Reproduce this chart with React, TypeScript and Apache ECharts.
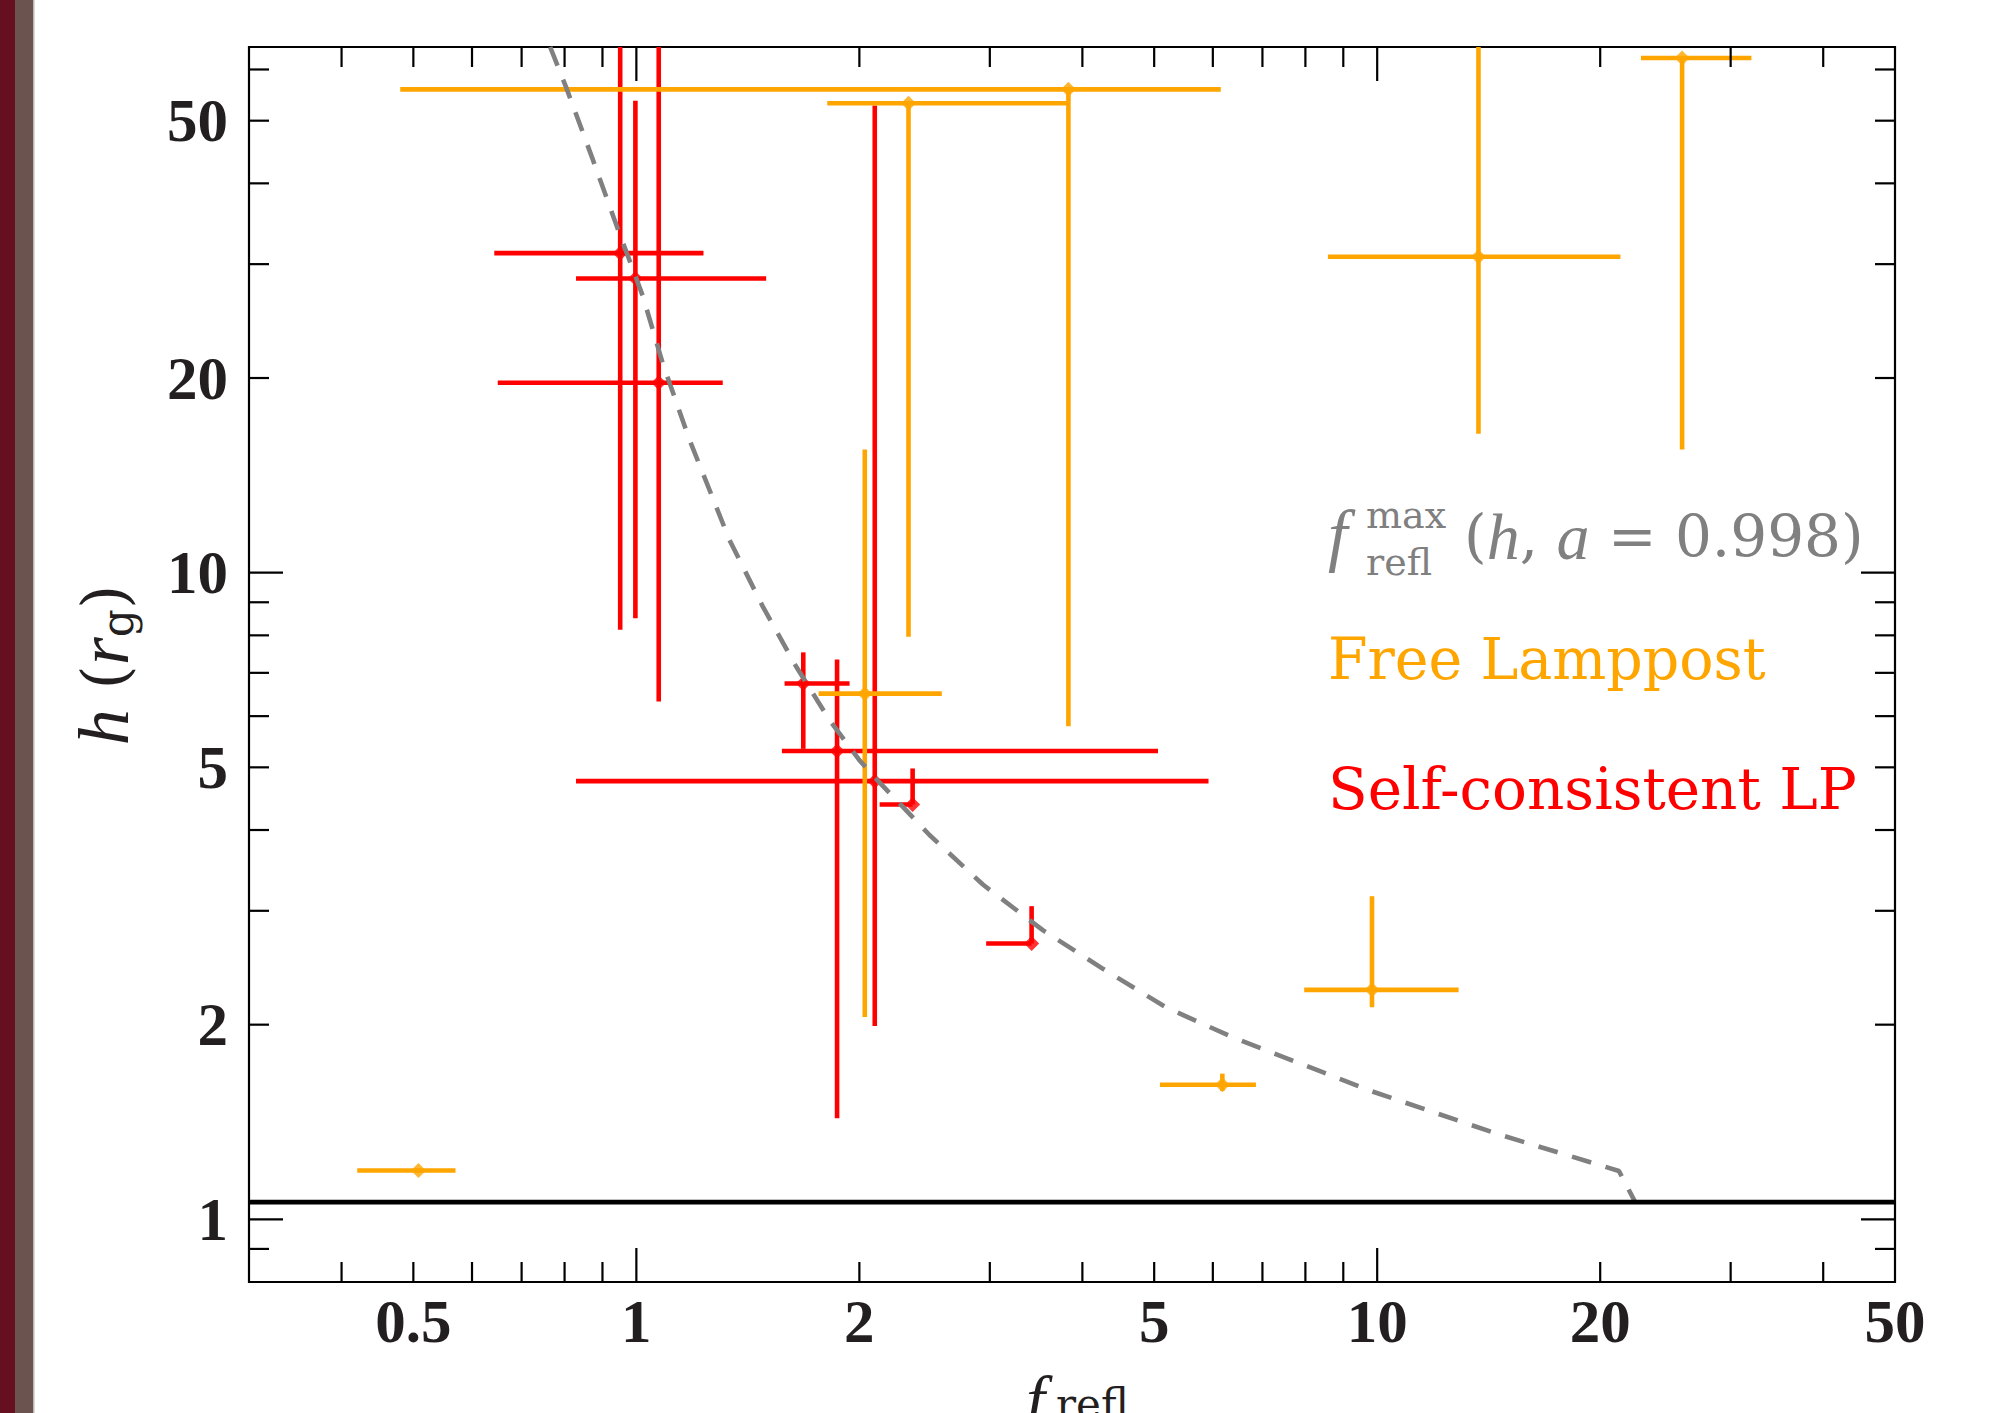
import React, { useEffect, useRef } from "react";
import * as echarts from "echarts";

// ---- axis setup ----
const X_MIN = 0.3;
const X_MAX = 50;
const Y_MIN = 0.8;
const Y_MAX = 65;
const xTickMajor = [1, 10];
const xTickMinor = [0.4, 0.5, 0.6, 0.7, 0.8, 0.9, 2, 3, 4, 5, 6, 7, 8, 9, 20, 30, 40];
const xTickLabels = [0.5, 1, 2, 5, 10, 20, 50];
const yTickMajor = [1, 10];
const yTickMinor = [0.9, 2, 3, 4, 5, 6, 7, 8, 9, 20, 30, 40, 50, 60];
const yTickLabels = [1, 2, 5, 10, 20, 50];

// event horizon height for a = 0.998
const horizonH = 1.063;

// f_refl^max(h, a=0.998) curve
const curveX = [0.765, 0.804, 0.873, 0.944, 1.02, 1.085, 1.179, 1.335, 1.481, 1.643, 1.822, 2.0, 2.107, 2.487, 2.936, 3.537, 4.264, 5.19, 6.39, 9.8, 14.57, 21.2, 22.3];
const curveY = [65, 56.3, 43.6, 34.0, 26.8, 21.1, 16.07, 11.25, 8.87, 7.16, 5.92, 5.13, 4.8, 3.93, 3.294, 2.8, 2.44, 2.126, 1.911, 1.58, 1.354, 1.188, 1.063];

// Self-consistent LP (red)
const redX = [0.951, 0.997, 1.072, 1.68, 1.866, 2.098, 2.36, 3.416];
const redY = [31.2, 28.5, 19.67, 6.74, 5.3, 4.76, 4.38, 2.67];
const redXLo = [0.643, 0.829, 0.65, 1.585, 1.572, 0.829, 2.13, 2.966];
const redXHi = [1.232, 1.497, 1.308, 1.94, 5.06, 5.92, 2.36, 3.416];
const redYLo = [8.16, 8.5, 6.32, 5.34, 1.433, 1.99, 4.38, 2.67];
const redYHi = [100, 53.7, 100, 7.53, 7.34, 52.8, 4.98, 3.05];

// Free Lamppost (orange)
const orangeX = [0.508, 3.83, 2.33, 25.8, 13.7, 9.84, 6.18, 2.034];
const orangeY = [1.19, 55.9, 53.2, 62.5, 30.8, 2.264, 1.615, 6.5];
const orangeXLo = [0.42, 0.48, 1.81, 22.7, 8.58, 7.97, 5.09, 1.762];
const orangeXHi = [0.57, 6.15, 3.82, 32.0, 21.3, 12.88, 6.86, 2.584];
const orangeYLo = [1.18, 5.79, 7.96, 15.5, 16.4, 2.128, 1.58, 2.056];
const orangeYHi = [1.2, 55.9, 53.2, 62.5, 100, 3.16, 1.68, 15.5];

const RED = "#FF0000";
const ORANGE = "#FFA500";
const GRAY = "#808080";
const INK = "#231F20";

function errRows(x: number[], y: number[], xl: number[], xh: number[], yl: number[], yh: number[]) {
  return x.map((v, i) => [v, y[i], xl[i], xh[i], yl[i], yh[i]]);
}

function makeErrRender(color: string) {
  return (params: any, api: any) => {
    const cs = params.coordSys;
    const cx = (v: number) => Math.max(cs.x, Math.min(cs.x + cs.width, v));
    const cy = (v: number) => Math.max(cs.y, Math.min(cs.y + cs.height, v));
    const x = api.value(0);
    const y = api.value(1);
    const a = api.coord([api.value(2), y]);
    const b = api.coord([api.value(3), y]);
    const c = api.coord([x, api.value(4)]);
    const d = api.coord([x, api.value(5)]);
    const style = { stroke: color, lineWidth: 4.6, fill: null };
    return {
      type: "group",
      children: [
        { type: "line", shape: { x1: cx(a[0]), y1: cy(a[1]), x2: cx(b[0]), y2: cy(b[1]) }, style },
        { type: "line", shape: { x1: cx(c[0]), y1: cy(c[1]), x2: cx(d[0]), y2: cy(d[1]) }, style },
      ],
    };
  };
}

function tickRender(params: any, api: any) {
  const cs = params.coordSys;
  const kind = api.value(2);
  const p = api.coord([api.value(0), api.value(1)]);
  const style = { stroke: "#000", lineWidth: 2.2, fill: null };
  if (kind < 2) {
    const len = kind === 1 ? 34 : 20;
    const bottom = cs.y + cs.height;
    const top = cs.y;
    return {
      type: "group",
      children: [
        { type: "line", shape: { x1: p[0], y1: bottom, x2: p[0], y2: bottom - len }, style },
        { type: "line", shape: { x1: p[0], y1: top, x2: p[0], y2: top + len }, style },
      ],
    };
  }
  const len = kind === 3 ? 34 : 20;
  const left = cs.x;
  const right = cs.x + cs.width;
  return {
    type: "group",
    children: [
      { type: "line", shape: { x1: left, y1: p[1], x2: left + len, y2: p[1] }, style },
      { type: "line", shape: { x1: right, y1: p[1], x2: right - len, y2: p[1] }, style },
    ],
  };
}

function labelRender(params: any, api: any) {
  const cs = params.coordSys;
  const kind = api.value(2);
  const p = api.coord([api.value(0), api.value(1)]);
  const common = { fontFamily: "Liberation Serif", fontWeight: "bold", fontSize: 61, fill: INK };
  if (kind === 0) {
    return {
      type: "text",
      x: p[0],
      y: cs.y + cs.height + 39,
      style: { ...common, text: String(api.value(0)), align: "center", verticalAlign: "middle" },
    };
  }
  return {
    type: "text",
    x: cs.x - 21,
    y: p[1],
    style: { ...common, text: String(api.value(1)), align: "right", verticalAlign: "middle" },
  };
}

export default function App() {
  const ref = useRef<HTMLDivElement>(null);
  useEffect(() => {
    if (!ref.current) return;
    const chart = echarts.init(ref.current, undefined, { renderer: "svg" });

    const tickData = [
      ...xTickMinor.map((v) => [v, Y_MIN, 0]),
      ...xTickMajor.map((v) => [v, Y_MIN, 1]),
      ...yTickMinor.map((v) => [X_MIN, v, 2]),
      ...yTickMajor.map((v) => [X_MIN, v, 3]),
    ];
    const labelData = [
      ...xTickLabels.map((v) => [v, Y_MIN, 0]),
      ...yTickLabels.map((v) => [X_MIN, v, 1]),
    ];

    const option: any = {
      animation: false,
      backgroundColor: "#fff",
      grid: {
        left: 249,
        top: 47,
        width: 1646,
        height: 1235,
        show: true,
        borderColor: "#000",
        borderWidth: 2.2,
        backgroundColor: "transparent",
      },
      xAxis: {
        type: "log",
        logBase: 10,
        min: X_MIN,
        max: X_MAX,
        axisLine: { show: false },
        axisTick: { show: false },
        axisLabel: { show: false },
        splitLine: { show: false },
        minorTick: { show: false },
      },
      yAxis: {
        type: "log",
        logBase: 10,
        min: Y_MIN,
        max: Y_MAX,
        axisLine: { show: false },
        axisTick: { show: false },
        axisLabel: { show: false },
        splitLine: { show: false },
        minorTick: { show: false },
      },
      series: [
        {
          name: "fmax",
          type: "line",
          data: curveX.map((v, i) => [v, curveY[i]]),
          symbol: "none",
          silent: true,
          clip: true,
          lineStyle: { color: GRAY, width: 4.6, type: [20, 15] },
        },
        {
          name: "horizon",
          type: "line",
          data: [
            [X_MIN, horizonH],
            [X_MAX, horizonH],
          ],
          symbol: "none",
          silent: true,
          lineStyle: { color: "#000", width: 4.6 },
        },
        {
          name: "Self-consistent LP err",
          type: "custom",
          silent: true,
          renderItem: makeErrRender(RED),
          encode: { x: [0, 2, 3], y: [1, 4, 5] },
          data: errRows(redX, redY, redXLo, redXHi, redYLo, redYHi),
        },
        {
          name: "Self-consistent LP",
          type: "scatter",
          silent: true,
          symbol: "diamond",
          symbolSize: 15,
          itemStyle: { color: RED },
          data: redX.map((v, i) => [v, redY[i]]),
        },
        {
          name: "Free Lamppost err",
          type: "custom",
          silent: true,
          renderItem: makeErrRender(ORANGE),
          encode: { x: [0, 2, 3], y: [1, 4, 5] },
          data: errRows(orangeX, orangeY, orangeXLo, orangeXHi, orangeYLo, orangeYHi),
        },
        {
          name: "Free Lamppost",
          type: "scatter",
          silent: true,
          symbol: "diamond",
          symbolSize: 15,
          itemStyle: { color: ORANGE },
          data: orangeX.map((v, i) => [v, orangeY[i]]),
        },
        {
          name: "ticks",
          type: "custom",
          silent: true,
          renderItem: tickRender,
          encode: { x: 0, y: 1 },
          data: tickData,
          z: 5,
        },
        {
          name: "ticklabels",
          type: "custom",
          silent: true,
          clip: false,
          renderItem: labelRender,
          encode: { x: 0, y: 1 },
          data: labelData,
          z: 5,
        },
      ],
      graphic: [
        { type: "rect", silent: true, shape: { x: 0, y: 0, width: 15, height: 1413 }, style: { fill: "#650F21" } },
        { type: "rect", silent: true, shape: { x: 15, y: 0, width: 18, height: 1413 }, style: { fill: "#6B5450" } },
        { type: "rect", silent: true, shape: { x: 33, y: 0, width: 1.5, height: 1413 }, style: { fill: "#BDB5B3" } },
        // legend / annotation texts
        {
          type: "text",
          x: 1328,
          y: 534,
          silent: true,
          style: { text: "f", fontFamily: "Liberation Serif", fontStyle: "italic", fontSize: 70, fill: GRAY, align: "left", verticalAlign: "middle" },
        },
        {
          type: "text",
          x: 1366,
          y: 515,
          silent: true,
          style: { text: "max", fontFamily: "DejaVu Serif", fontSize: 38, fill: GRAY, align: "left", verticalAlign: "middle" },
        },
        {
          type: "text",
          x: 1366,
          y: 562,
          silent: true,
          style: { text: "refl", fontFamily: "DejaVu Serif", fontSize: 38, fill: GRAY, align: "left", verticalAlign: "middle" },
        },
        {
          type: "text",
          x: 1464,
          y: 536,
          silent: true,
          style: {
            text: "{n|(}{i|h}{n|, }{i|a}{n| = 0.998)}",
            align: "left",
            verticalAlign: "middle",
            fill: GRAY,
            rich: {
              n: { fontFamily: "DejaVu Serif", fontSize: 58, fill: GRAY },
              i: { fontFamily: "Liberation Serif", fontStyle: "italic", fontSize: 66, fill: GRAY },
            },
          },
        },
        {
          type: "text",
          x: 1328,
          y: 659,
          silent: true,
          style: { text: "Free Lamppost", fontFamily: "DejaVu Serif", fontSize: 57, fill: ORANGE, align: "left", verticalAlign: "middle" },
        },
        {
          type: "text",
          x: 1328,
          y: 789,
          silent: true,
          style: { text: "Self-consistent LP", fontFamily: "DejaVu Serif", fontSize: 58, fill: RED, align: "left", verticalAlign: "middle" },
        },
        // y axis title, rotated
        {
          type: "group",
          x: 104,
          y: 665,
          rotation: Math.PI / 2,
          silent: true,
          children: [
            {
              type: "text",
              x: 0,
              y: 0,
              style: {
                text: "{i|h}{n| (}{i|r}{s|g}{n|)}",
                align: "center",
                verticalAlign: "middle",
                fill: INK,
                rich: {
                  i: { fontFamily: "Liberation Serif", fontStyle: "italic", fontSize: 72, fill: INK },
                  n: { fontFamily: "DejaVu Serif", fontSize: 62, fill: INK },
                  s: { fontFamily: "DejaVu Serif", fontSize: 44, fill: INK, padding: [26, 0, 0, 0] },
                },
              },
            },
          ],
        },
        // x axis title (cut by bottom edge, as in the original)
        {
          type: "text",
          x: 1026,
          y: 1400,
          silent: true,
          style: { text: "f", fontFamily: "Liberation Serif", fontStyle: "italic", fontSize: 68, fill: INK, align: "left", verticalAlign: "middle" },
        },
        {
          type: "text",
          x: 1056,
          y: 1404,
          silent: true,
          style: { text: "refl", fontFamily: "DejaVu Serif", fontSize: 42, fill: INK, align: "left", verticalAlign: "middle" },
        },
      ],
    };

    chart.setOption(option);
    return () => {
      chart.dispose();
    };
  }, []);

  return (
    <div
      ref={ref}
      style={{ position: "fixed", left: 0, top: 0, width: 1996, height: 1413, background: "#fff" }}
    />
  );
}
